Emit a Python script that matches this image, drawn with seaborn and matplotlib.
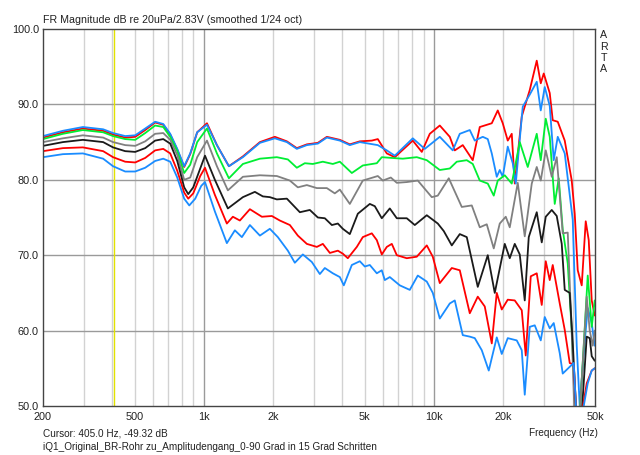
import matplotlib
matplotlib.use("Agg")
import matplotlib.pyplot as plt
import pandas as pd
import seaborn as sns

sns.set_theme(style="white")
plt.rcParams['font.family'] = ['Liberation Sans', 'DejaVu Sans']

# ---------------- data ----------------
freq_0 = [200,244,298,365,403,455,503,556,614,666,714,766,821,872,935,1031,1139,1284,1477,1751,2033,2293,2533,2800,3126,3420,3895,4304,4757,5363,5694,6230,6750,8080,8841,9578,10585,11699,12298,13321,14722,15791,17805,18904,19872,20892,21745,22406,24032,26033,27919,29063,29942,31796,32762,34444,36939,39620,40823,42069,43786,45571,46960,48390,49860]
db_0 = [85.6,86.3,86.8,86.5,86.0,85.6,85.7,86.6,87.6,87.3,86.0,84.0,81.7,83.4,86.3,87.5,84.6,81.8,83.1,85.0,85.7,85.1,84.2,84.7,84.9,85.7,85.3,84.7,85.1,85.2,85.4,83.5,83.0,85.2,83.7,86.1,87.2,85.7,83.9,84.6,82.6,87.0,87.5,89.2,87.5,85.2,86.1,79.5,88.4,91.9,95.8,92.8,94.1,91.5,87.9,87.7,85.2,79.9,75.5,68.0,66.0,74.5,72.0,64.0,62.0]

freq_15 = [200,244,298,365,403,455,503,556,614,666,714,766,821,872,935,1031,1139,1284,1477,1751,2033,2293,2533,2800,3126,3420,3895,4304,4757,5694,6230,6750,8080,9110,10585,12054,12929,14288,15020,16270,17106,17805,18715,19286,19872,20892,21962,22632,24271,26033,27919,29063,30244,31796,33090,34444,36939,40015,41647,42918,44665,46493,48390,49860]
db_15 = [85.8,86.5,87.0,86.7,86.2,85.8,85.9,86.8,87.7,87.4,86.1,84.1,81.8,83.5,86.3,87.3,84.6,81.8,83.0,84.9,85.5,85.0,84.1,84.6,84.8,85.6,85.2,84.6,85.0,84.6,83.9,83.2,85.5,84.1,85.7,83.9,86.1,86.6,85.2,85.7,85.4,83.5,80.4,81.3,80.4,84.4,82.2,79.5,89.7,91.3,93.0,89.2,92.3,89.8,82.6,85.7,83.5,74.7,58.0,50.0,57.0,63.0,61.0,58.0]

freq_30 = [200,244,298,365,403,455,503,556,614,666,714,766,821,872,935,1031,1139,1284,1477,1751,2074,2316,2533,2744,2973,3286,3631,3895,4391,4901,5638,5926,6550,7311,8410,9294,10585,11699,12546,13865,14722,15791,17106,18161,18904,20274,21745,23556,25518,27919,29063,30549,31796,33424,34790,36207,38066,39620,41237,42918,44665,46493,48390,49860]
db_30 = [85.4,86.1,86.6,86.3,85.8,85.4,85.3,86.2,87.2,87.0,85.7,83.8,80.9,82.0,85.0,86.8,83.5,80.2,82.1,82.8,83.0,82.7,81.6,82.2,82.1,82.4,82.1,82.4,80.9,81.9,82.2,83.0,82.9,82.8,83.0,82.6,81.3,81.5,82.4,82.6,82.1,79.9,79.5,77.9,79.9,80.6,79.5,85.0,81.7,86.1,82.6,88.1,85.7,76.8,80.2,73.4,68.9,60.0,48.0,49.0,58.0,67.3,60.5,64.0]

freq_45 = [200,244,298,365,403,455,503,556,614,666,714,766,821,872,935,1031,1139,1271,1477,1751,2074,2363,2559,2800,3094,3420,3704,3895,4304,4901,5694,5986,6485,6886,7609,8495,9771,10375,11582,13190,14577,15791,16934,18161,19286,20478,21314,23089,24762,26560,27919,29063,30549,32438,34099,36207,38066,39620,40823,42918,46025,47432,48873,49860]
db_45 = [85.0,85.5,85.9,85.6,85.0,84.6,84.5,85.1,86.1,86.2,85.3,83.3,80.0,80.3,83.0,85.2,81.8,78.6,80.4,80.6,80.5,79.9,79.0,79.3,78.9,78.9,78.2,78.7,76.8,79.9,80.5,79.9,80.3,79.6,79.7,79.9,77.7,77.9,80.2,76.4,76.6,73.7,74.1,70.9,74.2,75.1,73.7,79.6,72.5,79.5,81.7,79.9,83.9,80.4,83.0,72.9,73.0,59.7,48.0,49.0,64.5,60.0,58.0,60.0]

freq_60 = [200,244,298,365,403,455,503,556,614,666,714,766,821,855,899,964,1011,1116,1271,1477,1665,1803,1934,2074,2293,2611,2885,3126,3352,3596,3818,4013,4304,4663,5257,5526,5926,6420,6886,7609,8243,9294,10375,11016,11935,12929,13865,15478,17106,18345,20274,21314,22406,23556,24762,25773,27919,29353,30549,32438,34099,35850,36939,38835,40015,41647,43786,46025,47432,48390,49860]
db_60 = [84.5,85.0,85.3,85.0,84.3,83.8,83.7,84.2,85.2,85.4,84.8,82.5,79.0,78.1,79.0,81.5,83.2,80.0,76.2,77.7,78.4,77.8,77.7,77.4,77.5,75.7,76.0,75.0,74.9,74.0,74.2,73.5,72.8,75.5,76.8,76.5,74.9,76.2,74.9,74.9,74.0,75.3,74.2,73.2,71.3,72.8,72.4,65.8,70.0,65.0,71.5,69.6,71.5,70.1,64.0,72.4,75.7,71.7,75.1,76.0,75.2,71.5,65.4,65.0,58.4,48.0,49.0,59.2,59.0,56.6,56.0]

freq_75 = [200,244,298,365,403,455,503,556,614,666,714,766,821,855,899,964,1011,1116,1258,1336,1433,1584,1786,1973,2137,2363,2559,2800,3094,3286,3525,3818,4013,4219,4616,4901,5363,5638,5926,6230,6550,6886,7609,8410,9294,9869,10585,11935,12929,14288,15478,16599,17805,18715,19676,20892,22406,24032,25011,26296,27919,29353,30549,31796,32762,35140,36939,38835,40415,41647,43786,46025,48390,49860]
db_75 = [83.8,84.2,84.3,83.8,83.0,82.4,82.3,82.9,83.9,84.1,83.5,81.2,78.3,77.5,78.2,80.5,81.6,78.0,74.2,75.1,74.6,76.1,75.1,75.2,74.6,74.0,72.6,71.5,71.1,71.5,70.3,70.6,70.2,69.6,71.1,72.4,72.9,72.0,70.1,71.1,71.5,70.0,69.6,69.8,71.3,69.8,66.3,68.3,68.0,62.3,64.5,63.2,58.3,65.0,62.8,64.1,64.0,62.7,56.7,67.2,67.6,63.4,69.2,66.7,68.7,63.6,60.1,55.7,55.5,48.0,49.0,53.0,54.7,55.0]

freq_90 = [200,244,298,365,403,455,503,556,614,666,714,766,821,864,917,974,1011,1116,1258,1363,1462,1584,1751,1934,2095,2316,2483,2690,2943,3189,3352,3631,3895,4053,4391,4757,5000,5257,5638,5926,6107,6420,7096,7841,8495,9294,9869,10585,11699,12298,13321,14288,15020,16110,17277,18715,19676,20892,22859,24032,24762,26033,27366,29063,30244,31796,33090,35140,36207,38835,40415,41647,43786,46493,48390,49860]
db_90 = [83.0,83.4,83.5,82.8,81.8,81.1,81.1,81.6,82.5,82.8,82.4,80.3,77.5,76.6,77.5,79.2,79.7,75.8,71.6,73.3,72.4,74.0,72.6,73.5,72.4,70.6,69.0,70.1,69.1,67.5,68.3,67.6,67.1,66.0,68.7,69.2,68.5,68.7,67.6,68.0,66.7,67.1,66.0,65.4,67.3,66.5,65.0,61.6,63.6,64.0,59.4,59.2,59.0,57.4,54.7,59.1,56.9,59.0,58.7,57.4,51.5,60.5,60.7,58.7,61.8,60.3,61.0,57.0,54.3,55.2,55.7,48.0,48.5,53.0,54.7,55.0]

angles = ["0", "15", "30", "45", "60", "75", "90"]
colors = ["#ff0000", "#1a8cff", "#00ee33", "#808080", "#1a1a1a", "#ff0000", "#1a8cff"]

x_ticks = [200, 500, 1000, 2000, 5000, 10000, 20000, 50000]
x_tick_labels = ["200", "500", "1k", "2k", "5k", "10k", "20k", "50k"]
y_ticks = [50, 60, 70, 80, 90, 100]
y_tick_labels = ["50.0", "60.0", "70.0", "80.0", "90.0", "100.0"]
minor_grid = [300, 400, 500, 600, 700, 800, 900, 2000, 3000, 4000, 5000, 6000, 7000,
              8000, 9000, 20000, 30000, 40000]
major_grid = [1000, 10000]
cursor_freq = 405

series = [(freq_0, db_0), (freq_15, db_15), (freq_30, db_30), (freq_45, db_45),
          (freq_60, db_60), (freq_75, db_75), (freq_90, db_90)]
frames = [pd.DataFrame({"freq": f, "db": d, "angle": a}) for a, (f, d) in zip(angles, series)]
df = pd.concat(frames, ignore_index=True)

# ---------------- figure ----------------
W, H = 640, 455
fig = plt.figure(figsize=(W / 100, H / 100), dpi=100)
fig.patch.set_facecolor("white")
ax = fig.add_axes([43 / W, (H - 406) / H, (595 - 43) / W, (406 - 29) / H])
ax.set_facecolor("white")
ax.set_xscale("log")
ax.set_xlim(200, 50000)
ax.set_ylim(50, 100)

for g in minor_grid:
    ax.axvline(g, color="#d2d2d2", lw=1.0, zorder=0)
for g in major_grid:
    ax.axvline(g, color="#9a9a9a", lw=1.0, zorder=0)
for yv in y_ticks[1:-1]:
    ax.axhline(yv, color="#9a9a9a", lw=1.0, zorder=0)
ax.axvline(cursor_freq, color="#e2e200", lw=1.0, zorder=0.5)

for a, c in zip(angles, colors):
    sub = df[df["angle"] == a]
    sns.lineplot(data=sub, x="freq", y="db", color=c, lw=1.3, estimator=None,
                 sort=False, legend=False, ax=ax)

ax.set_xticks(x_ticks)
ax.set_xticklabels(x_tick_labels)
ax.set_xticks([], minor=True)
ax.set_yticks(y_ticks)
ax.set_yticklabels(y_tick_labels)
ax.tick_params(axis="both", length=0, labelsize=7.8, colors="#222222")
ax.tick_params(axis="y", pad=3)
ax.tick_params(axis="x", pad=4)
ax.set_xlabel("")
ax.set_ylabel("")
for s in ax.spines.values():
    s.set_color("#444444")
    s.set_linewidth(1.0)
    s.set_visible(True)

def ftext(x, y, s, size=7.2, **kw):
    fig.text(x / W, 1 - y / H, s, fontsize=size, color="#222222", **kw)

ftext(43, 20, "FR Magnitude dB re 20uPa/2.83V (smoothed 1/24 oct)", size=7.7, va="center", ha="left")
ftext(43, 433, "Cursor: 405.0 Hz, -49.32 dB", va="center", ha="left")
ftext(598, 433, "Frequency (Hz)", va="center", ha="right")
ftext(43, 447, "iQ1_Original_BR-Rohr zu_Amplitudengang_0-90 Grad in 15 Grad Schritten", va="center", ha="left")
for i, ch in enumerate("ARTA"):
    ftext(604, 35 + i * 11.5, ch, size=7.7, va="center", ha="center")

fig.savefig("out.png", dpi=100, facecolor="white")
